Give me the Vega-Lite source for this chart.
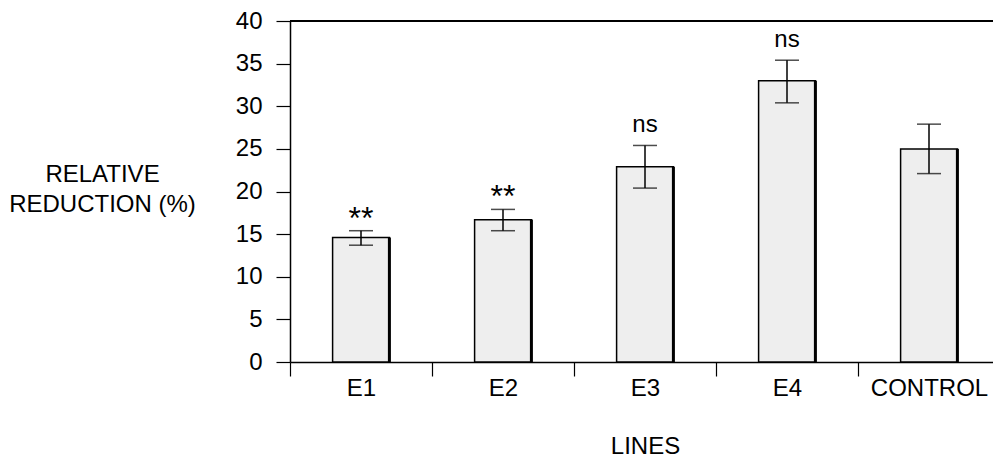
{
  "$schema": "https://vega.github.io/schema/vega-lite/v6.json",
  "autosize": {"type": "none"},
  "padding": {"left": 290, "top": 21, "right": 0, "bottom": 99},
  "width": 703,
  "height": 341,
  "background": "white",
  "config": {
    "view": {"stroke": null},
    "font": "Liberation Sans",
    "axis": {
      "domainColor": "black",
      "domainWidth": 1.5,
      "tickColor": "black",
      "tickWidth": 1.2,
      "labelColor": "black",
      "titleColor": "black",
      "labelFont": "Liberation Sans",
      "titleFont": "Liberation Sans",
      "labelFontSize": 24,
      "titleFontSize": 24,
      "titleFontWeight": "normal",
      "grid": false
    }
  },
  "data": {
    "values": [
      {"line": "E1", "mean": 14.6, "lo": 13.7, "hi": 15.4, "sig": "**"},
      {"line": "E2", "mean": 16.7, "lo": 15.4, "hi": 17.9, "sig": "**"},
      {"line": "E3", "mean": 22.9, "lo": 20.4, "hi": 25.4, "sig": "ns"},
      {"line": "E4", "mean": 33.0, "lo": 30.4, "hi": 35.4, "sig": "ns"},
      {"line": "CONTROL", "mean": 25.0, "lo": 22.1, "hi": 27.9, "sig": ""}
    ]
  },
  "encoding": {
    "x": {
      "field": "line",
      "type": "nominal",
      "sort": null,
      "scale": {"range": [0, 710], "paddingInner": 0, "paddingOuter": 0},
      "axis": {
        "title": "LINES",
        "labelAngle": 0,
        "tickBand": "extent",
        "tickSize": 14,
        "labelPadding": 0,
        "titleX": 355,
        "titleY": 91,
        "titleBaseline": "alphabetic",
        "titleAnchor": null
      }
    }
  },
  "layer": [
    {
      "mark": {"type": "rule", "color": "black", "strokeWidth": 1.5},
      "encoding": {"x": null, "y": {"datum": 40}}
    },
    {
      "mark": {"type": "bar", "fill": "#eeeeee", "stroke": "black", "strokeWidth": 1.5, "width": {"band": 0.4}},
      "encoding": {
        "y": {
          "field": "mean",
          "type": "quantitative",
          "scale": {"domain": [0, 40], "nice": false},
          "axis": {
            "values": [0, 5, 10, 15, 20, 25, 30, 35, 40],
            "tickSize": 14,
            "labelPadding": 14,
            "title": ["RELATIVE", "REDUCTION (%)"],
            "titleAngle": 0,
            "titleAlign": "center",
            "titleBaseline": "alphabetic",
            "titleLineHeight": 30,
            "titleX": -188,
            "titleY": 160
          }
        }
      }
    },
    {
      "mark": {"type": "rule", "color": "black", "strokeWidth": 3},
      "encoding": {
        "x": {"field": "line", "type": "nominal", "sort": null, "bandPosition": 0.7},
        "y": {"field": "mean", "type": "quantitative"},
        "y2": {"datum": 0}
      }
    },
    {
      "mark": {"type": "rule", "color": "black", "strokeWidth": 1.5},
      "encoding": {
        "y": {"field": "lo", "type": "quantitative"},
        "y2": {"field": "hi"}
      }
    },
    {
      "mark": {"type": "tick", "color": "black", "thickness": 1.5, "size": 24, "orient": "horizontal"},
      "encoding": {"y": {"field": "lo", "type": "quantitative"}}
    },
    {
      "mark": {"type": "tick", "color": "black", "thickness": 1.5, "size": 24, "orient": "horizontal"},
      "encoding": {"y": {"field": "hi", "type": "quantitative"}}
    },
    {
      "transform": [{"filter": "datum.sig == 'ns'"}],
      "mark": {"type": "text", "fontSize": 24, "baseline": "alphabetic", "dy": -13.5, "color": "black"},
      "encoding": {
        "y": {"field": "hi", "type": "quantitative"},
        "text": {"field": "sig"}
      }
    },
    {
      "transform": [{"filter": "datum.sig == '**'"}],
      "mark": {"type": "text", "fontSize": 32, "baseline": "alphabetic", "dy": -2, "color": "black"},
      "encoding": {
        "y": {"field": "hi", "type": "quantitative"},
        "text": {"field": "sig"}
      }
    }
  ]
}
